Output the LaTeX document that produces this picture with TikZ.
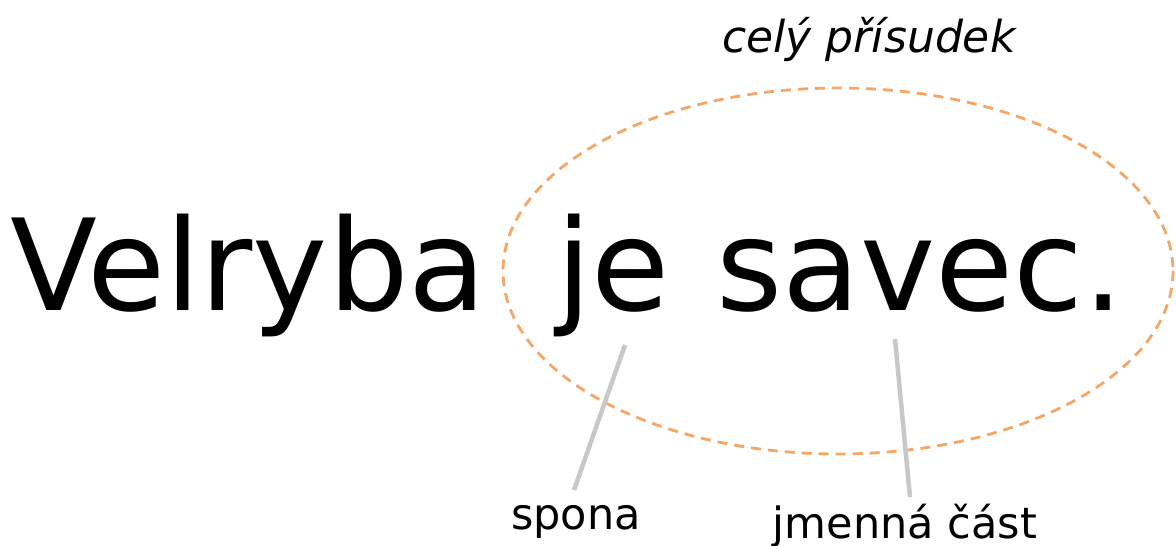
\documentclass[tikz,border=0pt]{standalone}
\usepackage{fontspec}
\setmainfont{DejaVu Sans}
\definecolor{ringorange}{RGB}{246,166,100}
\definecolor{leadergray}{RGB}{200,200,200}
\begin{document}
\begin{tikzpicture}[x=1pt,y=-1pt,
  bigtext/.style={font=\fontsize{127}{127}\selectfont, inner sep=0pt, anchor=base west},
  label/.style={font=\fontsize{43}{43}\selectfont, inner sep=0pt, anchor=base},
  leader/.style={draw=leadergray, line width=4.5pt},
  scopering/.style={draw=ringorange, dash pattern=on 10pt off 7pt, line width=2.8pt}]
\useasboundingbox (0,0) rectangle (1176,546);
\draw[scopering] (838,271) ellipse [x radius=335, y radius=183];
\node[bigtext] (w1) at (10,310) {Velryba};
\node[bigtext] (w2) at (556,310) {je};
\node[bigtext] (w3) at (716,310) {savec.};
\node[label, font=\fontsize{44}{44}\itshape\selectfont] (pris) at (869,52) {celý přísudek};
\node[label] (spona) at (576,529) {spona};
\node[label] (jmen) at (905,538) {jmenná část};
\coordinate (a1) at (625,345);
\coordinate (a2) at (574,490);
\coordinate (b1) at (895,339);
\coordinate (b2) at (910,497);
\draw[leader] (a1) -- (a2);
\draw[leader] (b1) -- (b2);
\end{tikzpicture}
\end{document}
